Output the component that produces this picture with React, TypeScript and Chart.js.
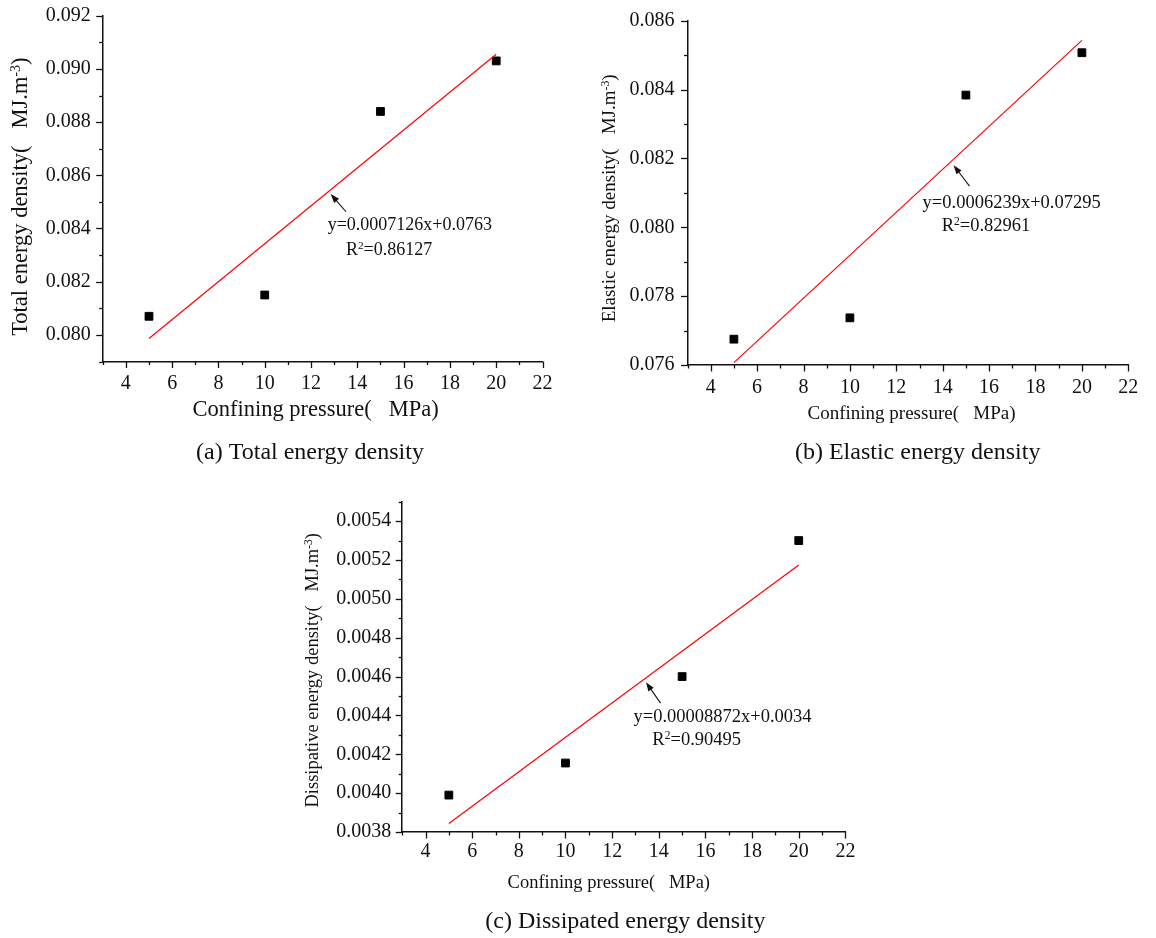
import React, { useEffect, useRef } from "react";
import { Chart, registerables } from "chart.js";

Chart.register(...registerables);

// Confining pressure (MPa) of the four tests
const pressure = [5, 10, 15, 20];

// Energy densities (MJ·m⁻³) measured at each confining pressure
const totalEnergy = [0.0807, 0.0815, 0.0884, 0.0903];
const elasticEnergy = [0.07675, 0.07737, 0.08384, 0.08507];
const dissipatedEnergy = [0.00399, 0.004155, 0.0046, 0.0053];

// Linear fits y = a·x + b and their coefficients of determination
const fitSlopes = [0.0007126, 0.0006239, 0.00008872];
const fitIntercepts = [0.0763, 0.07295, 0.0034];
const fitR2 = [0.86127, 0.82961, 0.90495];

// Axis ranges and tick steps
const pressureRange = [3, 22];
const energyRanges = [
  [0.079, 0.092],
  [0.076, 0.086],
  [0.0038, 0.0055],
];
const energyMinorSteps = [0.001, 0.001, 0.0001];
const energyDecimals = [3, 3, 4];

// Labels
const yTitles = ["Total energy density", "Elastic energy density", "Dissipative energy density"];
const xTitle = "Confining pressure";
const captions = ["(a) Total energy density", "(b) Elastic energy density", "(c) Dissipated energy density"];

const seriesByPanel = [totalEnergy, elasticEnergy, dissipatedEnergy];

const INK = "#111111";
const SERIF = "'Liberation Serif', 'Times New Roman', Times, serif";

type Pair = [number, number];
type PanelStyle = {
  canvas: { left: number; top: number; width: number; height: number };
  padding: { left: number; right: number; top: number; bottom: number };
  yBoxWidth: number;
  xBoxHeight: number;
  tickFont: number;
  yTickPad: number;
  xTickPad: number;
  titleFont: number;
  noteFont: number;
  captionFont: number;
  yTitleAt: Pair;
  xTitleAt: Pair;
  captionAt: Pair;
  arrowX: number;
  tipShift: Pair;
  tail: Pair;
  eqAt: Pair;
  r2At: Pair;
};

const panelStyles: PanelStyle[] = [
  {
    canvas: { left: 0, top: 0, width: 580, height: 470 },
    padding: { left: 32.7, right: 37.5, top: 15.7, bottom: 68.5 },
    yBoxWidth: 70,
    xBoxHeight: 40,
    tickFont: 20,
    yTickPad: 12,
    xTickPad: 10,
    titleFont: 22.5,
    noteFont: 18,
    captionFont: 24,
    yTitleAt: [-81.7, 8.1],
    xTitleAt: [-7, 48.5],
    captionAt: [-12.6, 91.5],
    arrowX: 12.85,
    tipShift: [0, 4.3],
    tail: [15.3, 17.7],
    eqAt: [-3, 31],
    r2At: [15.3, 56],
  },
  {
    canvas: { left: 580, top: 0, width: 576, height: 470 },
    padding: { left: 37.5, right: 27.7, top: 20.7, bottom: 65 },
    yBoxWidth: 70,
    xBoxHeight: 40,
    tickFont: 20,
    yTickPad: 13,
    xTickPad: 11,
    titleFont: 19,
    noteFont: 18.5,
    captionFont: 24,
    yTitleAt: [-77.6, 5.5],
    xTitleAt: [3.6, 49.3],
    captionAt: [9.8, 88],
    arrowX: 14.47,
    tipShift: [0, 6],
    tail: [15.9, 21],
    eqAt: [-31, 37.6],
    r2At: [-11.9, 61],
  },
  {
    canvas: { left: 280, top: 470, width: 600, height: 468 },
    padding: { left: 52.2, right: 34.6, top: 31.7, bottom: 66 },
    yBoxWidth: 70,
    xBoxHeight: 40,
    tickFont: 20,
    yTickPad: 11,
    xTickPad: 8,
    titleFont: 18.5,
    noteFont: 18.5,
    captionFont: 24,
    yTitleAt: [-88.7, 3.5],
    xTitleAt: [-15, 50.7],
    captionAt: [1.6, 89.7],
    arrowX: 13.45,
    tipShift: [0, 4.3],
    tail: [14.6, 21],
    eqAt: [-12.5, 35],
    r2At: [6.4, 57.6],
  },
];

type Seg = { text: string; sup?: boolean };

// Draws a run of text with optional superscript pieces.
function drawRich(
  ctx: CanvasRenderingContext2D,
  segs: Seg[],
  x: number,
  y: number,
  size: number,
  align: "left" | "center"
) {
  const main = `${size}px ${SERIF}`;
  const small = `${(size * 0.62).toFixed(1)}px ${SERIF}`;
  let total = 0;
  const widths = segs.map((s) => {
    ctx.font = s.sup ? small : main;
    const w = ctx.measureText(s.text).width;
    total += w;
    return w;
  });
  let cx = align === "center" ? x - total / 2 : x;
  ctx.textAlign = "left";
  ctx.textBaseline = "middle";
  segs.forEach((s, k) => {
    ctx.font = s.sup ? small : main;
    ctx.fillText(s.text, cx, s.sup ? y - size * 0.22 : y);
    cx += widths[k];
  });
}

// Tick marks (major / minor), fit annotation, axis titles and caption.
const panelDecor = {
  id: "panelDecor",
  afterDraw(chart: any, _args: any, opts: any) {
    const { ctx, chartArea: a, scales } = chart;
    const xs = scales.x;
    const ys = scales.y;
    const st: PanelStyle = opts.style;
    ctx.save();
    ctx.strokeStyle = INK;
    ctx.fillStyle = INK;
    ctx.lineWidth = 1.3;

    // x tick marks, pointing down
    xs.ticks.forEach((t: any) => {
      const px = Math.round(xs.getPixelForValue(t.value)) + 0.5;
      const len = t.label === "" ? 3.5 : 6.5;
      ctx.beginPath();
      ctx.moveTo(px, a.bottom);
      ctx.lineTo(px, a.bottom + len);
      ctx.stroke();
    });
    // y tick marks, pointing left
    ys.ticks.forEach((t: any) => {
      const py = Math.round(ys.getPixelForValue(t.value)) + 0.5;
      const len = t.label === "" ? 3.5 : 6.5;
      ctx.beginPath();
      ctx.moveTo(a.left, py);
      ctx.lineTo(a.left - len, py);
      ctx.stroke();
    });

    // arrow pointing at the fitted line
    const lx = xs.getPixelForValue(st.arrowX);
    const ly = ys.getPixelForValue(opts.slope * st.arrowX + opts.intercept);
    const tipX = lx + st.tipShift[0];
    const tipY = ly + st.tipShift[1];
    const tailX = tipX + st.tail[0];
    const tailY = tipY + st.tail[1];
    const dx = tipX - tailX;
    const dy = tipY - tailY;
    const len = Math.hypot(dx, dy);
    const ux = dx / len;
    const uy = dy / len;
    const head = 9;
    const bx = tipX - ux * head;
    const by = tipY - uy * head;
    ctx.lineWidth = 1.1;
    ctx.beginPath();
    ctx.moveTo(tailX, tailY);
    ctx.lineTo(bx + ux * 2, by + uy * 2);
    ctx.stroke();
    ctx.beginPath();
    ctx.moveTo(tipX, tipY);
    ctx.lineTo(bx - uy * 3.2, by + ux * 3.2);
    ctx.lineTo(bx + uy * 3.2, by - ux * 3.2);
    ctx.closePath();
    ctx.fill();

    // fit equation and R²
    drawRich(
      ctx,
      [{ text: `y=${opts.slope}x+${opts.intercept}` }],
      tipX + st.eqAt[0],
      tipY + st.eqAt[1],
      st.noteFont,
      "left"
    );
    drawRich(
      ctx,
      [{ text: "R" }, { text: "2", sup: true }, { text: `=${opts.r2}` }],
      tipX + st.r2At[0],
      tipY + st.r2At[1],
      st.noteFont,
      "left"
    );

    const midX = (a.left + a.right) / 2;
    const midY = (a.top + a.bottom) / 2;

    // y axis title (rotated)
    ctx.save();
    ctx.translate(a.left + st.yTitleAt[0], midY + st.yTitleAt[1]);
    ctx.rotate(-Math.PI / 2);
    drawRich(
      ctx,
      [{ text: `${opts.yTitle}(\u2002 MJ.m` }, { text: "-3", sup: true }, { text: ")" }],
      0,
      0,
      st.titleFont,
      "center"
    );
    ctx.restore();

    // x axis title
    drawRich(
      ctx,
      [{ text: `${xTitle}(\u2002 MPa)` }],
      midX + st.xTitleAt[0],
      a.bottom + st.xTitleAt[1],
      st.titleFont,
      "center"
    );

    // panel caption
    drawRich(
      ctx,
      [{ text: opts.caption }],
      midX + st.captionAt[0],
      a.bottom + st.captionAt[1],
      st.captionFont,
      "center"
    );
    ctx.restore();
  },
};

function EnergyPanel({ index }: { index: number }) {
  const ref = useRef<HTMLCanvasElement | null>(null);
  const st = panelStyles[index];

  useEffect(() => {
    const canvas = ref.current;
    if (!canvas) return;
    const values = seriesByPanel[index];
    const slope = fitSlopes[index];
    const intercept = fitIntercepts[index];
    const [ymin, ymax] = energyRanges[index];
    const step = energyMinorSteps[index];
    const decimals = energyDecimals[index];
    const fitEnds = [pressure[0], pressure[pressure.length - 1]];

    const chart = new Chart(canvas, {
      type: "scatter",
      data: {
        datasets: [
          {
            label: "fit",
            data: fitEnds.map((x) => ({ x, y: slope * x + intercept })),
            showLine: true,
            borderColor: "#ff0000",
            borderWidth: 1.2,
            pointRadius: 0,
            fill: false,
          },
          {
            label: "measured",
            data: pressure.map((x, k) => ({ x, y: values[k] })),
            showLine: false,
            pointStyle: "rect",
            pointRadius: 5.5,
            backgroundColor: "#000000",
            borderColor: "#000000",
            borderWidth: 1,
          },
        ],
      },
      options: {
        responsive: false,
        animation: false,
        events: [],
        layout: { padding: st.padding },
        plugins: {
          legend: { display: false },
          tooltip: { enabled: false },
          panelDecor: {
            style: st,
            slope,
            intercept,
            r2: fitR2[index],
            yTitle: yTitles[index],
            caption: captions[index],
          },
        } as any,
        scales: {
          x: {
            type: "linear",
            position: "bottom",
            min: pressureRange[0],
            max: pressureRange[1],
            afterFit: (s: any) => {
              s.height = st.xBoxHeight;
              s.paddingLeft = 0;
              s.paddingRight = 0;
            },
            grid: { display: false, drawTicks: false },
            border: { display: true, color: INK, width: 1.5 },
            ticks: {
              stepSize: 1,
              maxTicksLimit: 100,
              autoSkip: false,
              maxRotation: 0,
              minRotation: 0,
              padding: st.xTickPad,
              color: INK,
              font: { family: SERIF, size: st.tickFont },
              callback: (v: any) => {
                const n = Math.round(Number(v));
                return n % 2 === 0 ? String(n) : "";
              },
            },
          },
          y: {
            type: "linear",
            position: "left",
            min: ymin,
            max: ymax,
            afterFit: (s: any) => {
              s.width = st.yBoxWidth;
              s.paddingTop = 0;
              s.paddingBottom = 0;
            },
            grid: { display: false, drawTicks: false },
            border: { display: true, color: INK, width: 1.5 },
            ticks: {
              stepSize: step,
              maxTicksLimit: 100,
              autoSkip: false,
              padding: st.yTickPad,
              color: INK,
              font: { family: SERIF, size: st.tickFont },
              callback: (v: any) => {
                const k = Math.round(Number(v) / step);
                return k % 2 === 0 ? (k * step).toFixed(decimals) : "";
              },
            },
          },
        },
      },
      plugins: [panelDecor as any],
    });
    return () => chart.destroy();
  }, [index]);

  return (
    <canvas
      ref={ref}
      width={st.canvas.width}
      height={st.canvas.height}
      style={{
        position: "absolute",
        left: st.canvas.left,
        top: st.canvas.top,
        width: st.canvas.width,
        height: st.canvas.height,
      }}
    />
  );
}

export default function App() {
  return (
    <div
      style={{
        position: "absolute",
        left: 0,
        top: 0,
        width: 1156,
        height: 938,
        background: "#ffffff",
        overflow: "hidden",
      }}
    >
      <EnergyPanel index={0} />
      <EnergyPanel index={1} />
      <EnergyPanel index={2} />
    </div>
  );
}
